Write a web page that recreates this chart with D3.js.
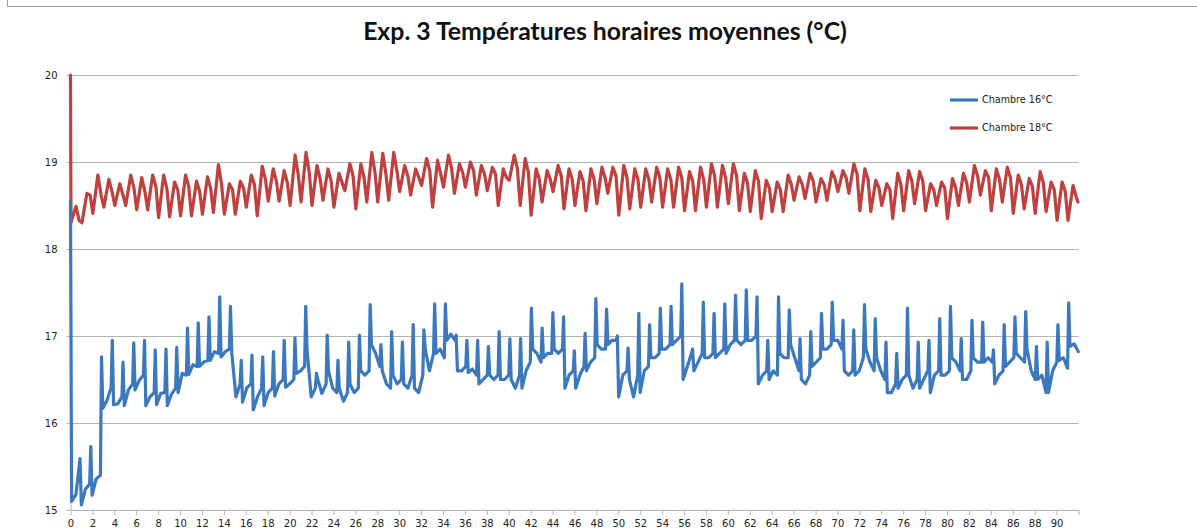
<!DOCTYPE html>
<html>
<head>
<meta charset="utf-8">
<script src="https://cdn.jsdelivr.net/npm/d3@7"></script>
<style>
  html, body { margin: 0; padding: 0; background: #fff; }
  svg { display: block; }
</style>
</head>
<body>
<svg id="chart" width="1197" height="531"></svg>
<script>
// ---------------------------------------------------------------
// Data: hourly mean temperatures (°C), two rooms, ~92 days
// ---------------------------------------------------------------
const chartTitle = "Exp. 3 Températures horaires moyennes (°C)";
const seriesNames = ["Chambre 16°C", "Chambre 18°C"];
const yTicks = [15, 16, 17, 18, 19, 20];
const xTicks = d3.range(0, 93, 2);          // one tick every 2 days
const xLabelMax = 90;                        // last labelled tick

// Chambre 18°C: one daily cycle (trough, peak, evening) per day, day 0..91
const redSampleHours = [1, 12, 19];
const redStart = 20;                         // first reading at t = 0
const redLow = [
  18.30, 18.30, 18.41, 18.48, 18.50, 18.50, 18.45, 18.45, 18.36, 18.37,
  18.38, 18.38, 18.40, 18.42, 18.40, 18.40, 18.48, 18.38, 18.55, 18.55,
  18.50, 18.54, 18.50, 18.56, 18.48, 18.67, 18.46, 18.54, 18.54, 18.56,
  18.66, 18.62, 18.73, 18.48, 18.71, 18.64, 18.71, 18.62, 18.67, 18.50,
  18.79, 18.50, 18.39, 18.54, 18.66, 18.46, 18.50, 18.44, 18.52, 18.64,
  18.39, 18.46, 18.48, 18.54, 18.48, 18.48, 18.44, 18.44, 18.48, 18.48,
  18.52, 18.44, 18.43, 18.35, 18.43, 18.43, 18.56, 18.58, 18.54, 18.56,
  18.66, 18.64, 18.44, 18.43, 18.50, 18.35, 18.44, 18.52, 18.44, 18.50,
  18.35, 18.50, 18.54, 18.62, 18.44, 18.54, 18.41, 18.46, 18.41, 18.43,
  18.33, 18.33
];
const redHigh = [
  18.49, 18.64, 18.85, 18.80, 18.75, 18.85, 18.82, 18.85, 18.85, 18.77,
  18.85, 18.78, 18.83, 18.97, 18.75, 18.78, 18.85, 18.95, 18.92, 18.90,
  19.08, 19.11, 18.96, 18.92, 18.87, 18.98, 18.98, 19.11, 19.10, 19.11,
  18.96, 18.92, 19.04, 19.02, 19.08, 18.98, 19.00, 18.96, 18.94, 18.92,
  19.08, 19.04, 18.92, 18.90, 18.96, 18.92, 18.89, 18.92, 18.94, 18.94,
  18.96, 18.92, 18.92, 18.94, 18.92, 18.94, 18.89, 18.94, 18.98, 18.96,
  18.98, 18.87, 18.90, 18.79, 18.77, 18.85, 18.83, 18.87, 18.81, 18.89,
  18.90, 18.98, 18.92, 18.79, 18.75, 18.87, 18.90, 18.89, 18.75, 18.77,
  18.81, 18.87, 18.96, 18.90, 18.92, 18.94, 18.85, 18.81, 18.89, 18.77,
  18.77, 18.73
];
const redLate = [
  18.33, 18.62, 18.62, 18.66, 18.62, 18.70, 18.66, 18.72, 18.70, 18.68,
  18.72, 18.66, 18.70, 18.74, 18.68, 18.70, 18.74, 18.80, 18.78, 18.76,
  18.85, 18.88, 18.80, 18.78, 18.76, 18.84, 18.82, 18.88, 18.86, 18.90,
  18.84, 18.82, 18.90, 18.86, 18.92, 18.88, 18.90, 18.86, 18.86, 18.82,
  18.92, 18.88, 18.80, 18.80, 18.84, 18.80, 18.78, 18.80, 18.82, 18.84,
  18.82, 18.80, 18.80, 18.82, 18.80, 18.82, 18.78, 18.80, 18.84, 18.82,
  18.84, 18.76, 18.78, 18.70, 18.68, 18.74, 18.74, 18.78, 18.74, 18.80,
  18.82, 18.86, 18.80, 18.70, 18.68, 18.74, 18.78, 18.78, 18.68, 18.70,
  18.70, 18.76, 18.84, 18.82, 18.80, 18.82, 18.74, 18.72, 18.76, 18.68,
  18.66, 18.60
];
const redEnd = 18.54;

// Chambre 16°C: start-up readings, then one regulation cycle per ~23.5 h
// (spike, value just after the spike, mid-cycle, value before next spike)
const blueStartDays = [0, 0.1, 0.5];
const blueStart = [18.55, 15.10, 15.18];
const blueFirstSpike = 0.87;                 // day of first spike
const blueCycleDays = 0.9808;                // length of a cycle, days
const blueCycleOffsets = [0, 0.12, 0.5, 0.88];
const blueSpike = [
  15.59, 15.73, 16.76, 16.95, 16.70, 16.92, 16.95, 16.84, 16.85, 16.87,
  17.09, 17.15, 17.22, 17.45, 17.34, 16.72, 16.78, 16.76, 16.82, 16.95,
  16.98, 17.34, 16.57, 17.01, 16.72, 16.93, 17.01, 17.36, 16.90, 17.05,
  16.93, 17.13, 17.07, 17.37, 17.37, 17.01, 16.95, 16.95, 16.88, 17.05,
  16.97, 16.97, 17.32, 17.09, 17.27, 17.22, 16.83, 17.03, 17.43, 17.31,
  17.00, 16.86, 17.26, 17.13, 17.32, 17.34, 17.60, 16.85, 17.39, 17.26,
  17.37, 17.47, 17.53, 17.45, 16.95, 17.45, 17.30, 16.97, 17.05, 17.26,
  17.39, 17.18, 17.07, 17.36, 17.20, 16.93, 16.80, 17.32, 16.93, 16.95,
  17.20, 17.34, 16.97, 17.18, 17.16, 16.84, 17.13, 17.22, 17.28, 16.88,
  16.93, 17.13, 17.38
];
const bluePost = [
  15.06, 15.17, 16.17, 16.21, 16.20, 16.38, 16.20, 16.21, 16.20, 16.35,
  16.56, 16.65, 16.72, 16.76, 16.80, 16.24, 16.15, 16.20, 16.31, 16.41,
  16.57, 16.85, 16.50, 16.60, 16.40, 16.45, 16.60, 16.90, 16.60, 16.55,
  16.45, 16.40, 16.85, 16.80, 16.95, 16.60, 16.58, 16.45, 16.55, 16.50,
  16.50, 16.40, 16.85, 16.75, 16.85, 16.40, 16.40, 16.60, 16.90, 16.90,
  16.30, 16.50, 16.35, 16.75, 16.85, 16.90, 16.50, 16.60, 16.75, 16.75,
  16.80, 16.95, 16.95, 16.45, 16.50, 16.80, 16.90, 16.50, 16.65, 16.85,
  16.95, 16.60, 16.55, 16.85, 16.75, 16.35, 16.40, 16.55, 16.40, 16.35,
  16.55, 16.75, 16.50, 16.75, 16.70, 16.45, 16.65, 16.80, 16.85, 16.50,
  16.35, 16.72, 16.88
];
const blueMid = [
  15.24, 15.36, 16.26, 16.22, 16.38, 16.49, 16.30, 16.34, 16.33, 16.57,
  16.67, 16.70, 16.82, 16.82, 16.30, 16.40, 16.30, 16.35, 16.45, 16.45,
  16.60, 16.30, 16.34, 16.40, 16.25, 16.35, 16.55, 16.80, 16.45, 16.45,
  16.40, 16.35, 16.60, 16.85, 17.02, 16.60, 16.62, 16.50, 16.50, 16.50,
  16.40, 16.60, 16.80, 16.80, 16.80, 16.55, 16.55, 16.70, 16.85, 16.95,
  16.55, 16.30, 16.60, 16.75, 16.85, 16.95, 16.65, 16.70, 16.75, 16.80,
  16.90, 16.90, 16.95, 16.55, 16.60, 16.75, 16.75, 16.45, 16.70, 16.85,
  16.95, 16.55, 16.60, 16.70, 16.60, 16.35, 16.50, 16.40, 16.50, 16.55,
  16.55, 16.70, 16.50, 16.70, 16.75, 16.55, 16.70, 16.75, 16.60, 16.55,
  16.60, 16.75, 16.91
];
const bluePre = [
  15.30, 15.40, 16.41, 16.30, 16.45, 16.55, 16.35, 16.35, 16.40, 16.55,
  16.65, 16.72, 16.80, 16.85, 16.45, 16.45, 16.40, 16.40, 16.50, 16.50,
  16.65, 16.40, 16.45, 16.35, 16.35, 16.40, 16.60, 16.65, 16.40, 16.50,
  16.55, 16.55, 16.80, 16.75, 16.95, 16.65, 16.55, 16.55, 16.55, 16.55,
  16.55, 16.70, 16.70, 16.80, 16.85, 16.60, 16.65, 16.75, 16.85, 16.95,
  16.60, 16.55, 16.65, 16.80, 16.90, 17.00, 16.80, 16.80, 16.80, 16.85,
  16.95, 16.95, 17.00, 16.60, 16.55, 16.75, 16.60, 16.55, 16.75, 16.90,
  16.85, 16.60, 16.75, 16.60, 16.50, 16.45, 16.55, 16.50, 16.60, 16.60,
  16.60, 16.60, 16.60, 16.70, 16.70, 16.60, 16.75, 16.70, 16.50, 16.35,
  16.70, 16.63, 16.82
];

// ---------------------------------------------------------------
// Build the time series (t in days)
// ---------------------------------------------------------------
const redSeries = [{ t: 0, v: redStart }];
redLow.forEach((_, d) => {
  [redLow[d], redHigh[d], redLate[d]].forEach((v, i) => {
    redSeries.push({ t: d + redSampleHours[i] / 24, v });
  });
});
redSeries.push({ t: 91.95, v: redEnd });

const blueSeries = blueStartDays.map((t, i) => ({ t, v: blueStart[i] }));
blueSpike.forEach((_, k) => {
  const t0 = blueFirstSpike + blueCycleDays * k;
  [blueSpike[k], bluePost[k], blueMid[k], bluePre[k]].forEach((v, i) => {
    blueSeries.push({ t: t0 + blueCycleOffsets[i], v });
  });
});

// ---------------------------------------------------------------
// Layout and scales
// ---------------------------------------------------------------
const svg = d3.select("#chart");
const plot = { left: 70.5, right: 1078.5, top: 75, bottom: 510 };

const x = d3.scaleLinear().domain([0, 92]).range([plot.left, plot.right]);
const y = d3.scaleLinear().domain([15, 20]).range([plot.bottom, plot.top]);

const COLORS = { blue: "#3b78bd", red: "#bf413e" };
const GRID = "#b4b4b4";
const AXIS_FONT = "DejaVu Sans, Verdana, sans-serif";
const LINE_W = 3.2;

// outer frame edge
svg.append("path")
  .attr("d", "M7.5,0 V6.5 H1197")
  .attr("fill", "none")
  .attr("stroke", "#9c9c9c")
  .attr("stroke-width", 1);

// horizontal gridlines
svg.append("g")
  .attr("class", "grid")
  .attr("transform", `translate(${plot.left},0)`)
  .call(d3.axisRight(y).tickValues(yTicks.slice(1)).tickSize(plot.right - plot.left).tickFormat(""))
  .call(g => g.select(".domain").remove())
  .call(g => g.selectAll("line").attr("stroke", GRID).attr("stroke-width", 1));

// y axis
svg.append("g")
  .attr("transform", `translate(${plot.left},0)`)
  .call(d3.axisLeft(y).tickValues(yTicks).tickSizeInner(4).tickSizeOuter(0).tickPadding(9).tickFormat(d3.format("d")))
  .call(g => g.select(".domain").attr("stroke", GRID))
  .call(g => g.selectAll("line").attr("stroke", GRID))
  .call(g => g.selectAll("text")
    .attr("font-family", AXIS_FONT).attr("font-size", 10).attr("fill", "#222"));

// x axis
svg.append("g")
  .attr("transform", `translate(0,${plot.bottom})`)
  .call(d3.axisBottom(x).tickValues(xTicks).tickSizeInner(5).tickSizeOuter(0).tickPadding(5)
    .tickFormat(d => d <= xLabelMax ? String(d) : ""))
  .call(g => g.select(".domain").attr("stroke", GRID))
  .call(g => g.selectAll("line").attr("stroke", GRID))
  .call(g => g.selectAll("text")
    .attr("font-family", AXIS_FONT).attr("font-size", 10).attr("fill", "#222"));

// series
const line = d3.line().x(d => x(d.t)).y(d => y(d.v));

svg.append("path")
  .datum(redSeries)
  .attr("d", line)
  .attr("fill", "none")
  .attr("stroke", COLORS.red)
  .attr("stroke-width", LINE_W)
  .attr("stroke-linejoin", "round")
  .attr("stroke-linecap", "round");

svg.append("path")
  .datum(blueSeries)
  .attr("d", line)
  .attr("fill", "none")
  .attr("stroke", COLORS.blue)
  .attr("stroke-width", LINE_W)
  .attr("stroke-linejoin", "round")
  .attr("stroke-linecap", "round");

// legend
const legend = svg.append("g").attr("transform", "translate(950,100)");
[COLORS.blue, COLORS.red].forEach((c, i) => {
  const row = legend.append("g").attr("transform", `translate(0,${i * 28})`);
  row.append("line")
    .attr("x1", 0).attr("x2", 28).attr("y1", 0).attr("y2", 0)
    .attr("stroke", c).attr("stroke-width", LINE_W);
  row.append("text")
    .attr("x", 32).attr("y", 0).attr("dy", "0.35em")
    .attr("font-family", AXIS_FONT).attr("font-size", 9.6).attr("fill", "#222")
    .text(seriesNames[i]);
});

// title, sized to span its box
const title = svg.append("text")
  .attr("x", 605).attr("y", 40)
  .attr("text-anchor", "middle")
  .attr("font-family", "Lato, 'Open Sans', sans-serif")
  .attr("font-weight", "bold")
  .attr("font-size", 20)
  .attr("fill", "#111")
  .text(chartTitle);
const tw = title.node().getComputedTextLength();
title.attr("font-size", (20 * 484 / tw).toFixed(2));
</script>
</body>
</html>
